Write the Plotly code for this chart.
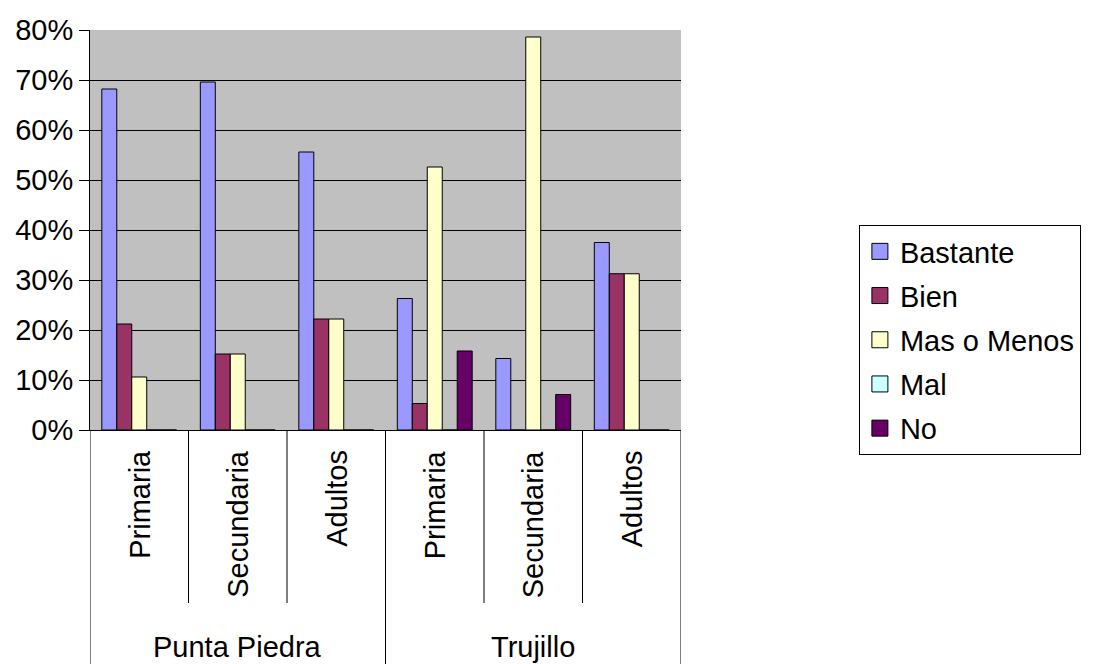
import plotly.graph_objects as go

groups = ["Punta Piedra", "Punta Piedra", "Punta Piedra", "Trujillo", "Trujillo", "Trujillo"]
levels = ["Primaria", "Secundaria", "Adultos", "Primaria", "Secundaria", "Adultos"]
series_names = ["Bastante", "Bien", "Mas o Menos", "Mal", "No"]
bastante = [68.2, 69.6, 55.6, 26.3, 14.3, 37.5]
bien = [21.2, 15.2, 22.2, 5.3, 0.0, 31.25]
mas_o_menos = [10.6, 15.2, 22.2, 52.6, 78.6, 31.25]
mal = [0.0, 0.0, 0.0, 0.0, 0.0, 0.0]
no = [0.0, 0.0, 0.0, 15.8, 7.1, 0.0]
colors = ["#9999FF", "#993366", "#FFFFCC", "#CCFFFF", "#660066"]
y_ticks = [0, 10, 20, 30, 40, 50, 60, 70, 80]

FONT = "Arial, 'Liberation Sans', sans-serif"
FS = 29
cats = [f"{g}|{l}" for g, l in zip(groups, levels)]

fig = go.Figure()
for i, (name, vals) in enumerate(zip(series_names, [bastante, bien, mas_o_menos, mal, no])):
    fig.add_trace(go.Bar(
        x=cats, y=vals, name=name, legendgroup=name, showlegend=False,
        marker=dict(color=colors[i], line=dict(color="black", width=1)),
    ))
# legend entries with larger square swatches
for i, name in enumerate(series_names):
    fig.add_trace(go.Scatter(
        x=[None], y=[None], mode="markers", name=name, legendgroup=name,
        marker=dict(symbol="square", size=16, color=colors[i], line=dict(color="black", width=1)),
    ))

# subcategory labels (rotated) and group labels
for i, c in enumerate(cats):
    fig.add_annotation(x=c, xref="x", y=-0.045, yref="paper", text=levels[i],
                       textangle=-90, showarrow=False, yanchor="top", xanchor="center",
                       font=dict(family=FONT, size=FS, color="black"))
for g, pos in [("Punta Piedra", 1), ("Trujillo", 4)]:
    fig.add_annotation(x=pos, xref="x", y=-0.5425, yref="paper", text=g,
                       showarrow=False, yanchor="middle", xanchor="center",
                       font=dict(family=FONT, size=FS, color="black"))

# divider lines of the category axis
for b in [-0.5, 2.5, 5.5]:
    fig.add_shape(type="line", xref="x", yref="paper", x0=b, x1=b, y0=0, y1=-0.6,
                  line=dict(color="black", width=1))
for b in [0.5, 1.5, 3.5, 4.5]:
    fig.add_shape(type="line", xref="x", yref="paper", x0=b, x1=b, y0=0, y1=-0.4325,
                  line=dict(color="black", width=1))

fig.update_layout(
    width=1093, height=664,
    margin=dict(l=90, r=409, t=30, b=234),
    paper_bgcolor="white", plot_bgcolor="#C0C0C0",
    barmode="group", bargap=0.24, bargroupgap=0,
    font=dict(family=FONT, size=FS, color="black"),
    showlegend=True,
    legend=dict(x=1.301, xanchor="left", y=0.5125, yanchor="top",
                bordercolor="black", borderwidth=1, bgcolor="white",
                font=dict(family=FONT, size=FS, color="black"),
                tracegroupgap=3.5, traceorder="grouped"),
    xaxis=dict(type="category", showticklabels=False, ticks="", range=[-0.5, 5.5],
               showline=True, linecolor="black", linewidth=1, showgrid=False, zeroline=False),
    yaxis=dict(range=[0, 80], tickvals=y_ticks, ticktext=[f"{v}%" for v in y_ticks],
               showgrid=True, gridcolor="black", gridwidth=1, zeroline=False,
               showline=True, linecolor="black", linewidth=1,
               ticks="outside", ticklen=10, tickcolor="black",
               tickfont=dict(family=FONT, size=FS, color="black")),
)

fig.write_html("out.html")
